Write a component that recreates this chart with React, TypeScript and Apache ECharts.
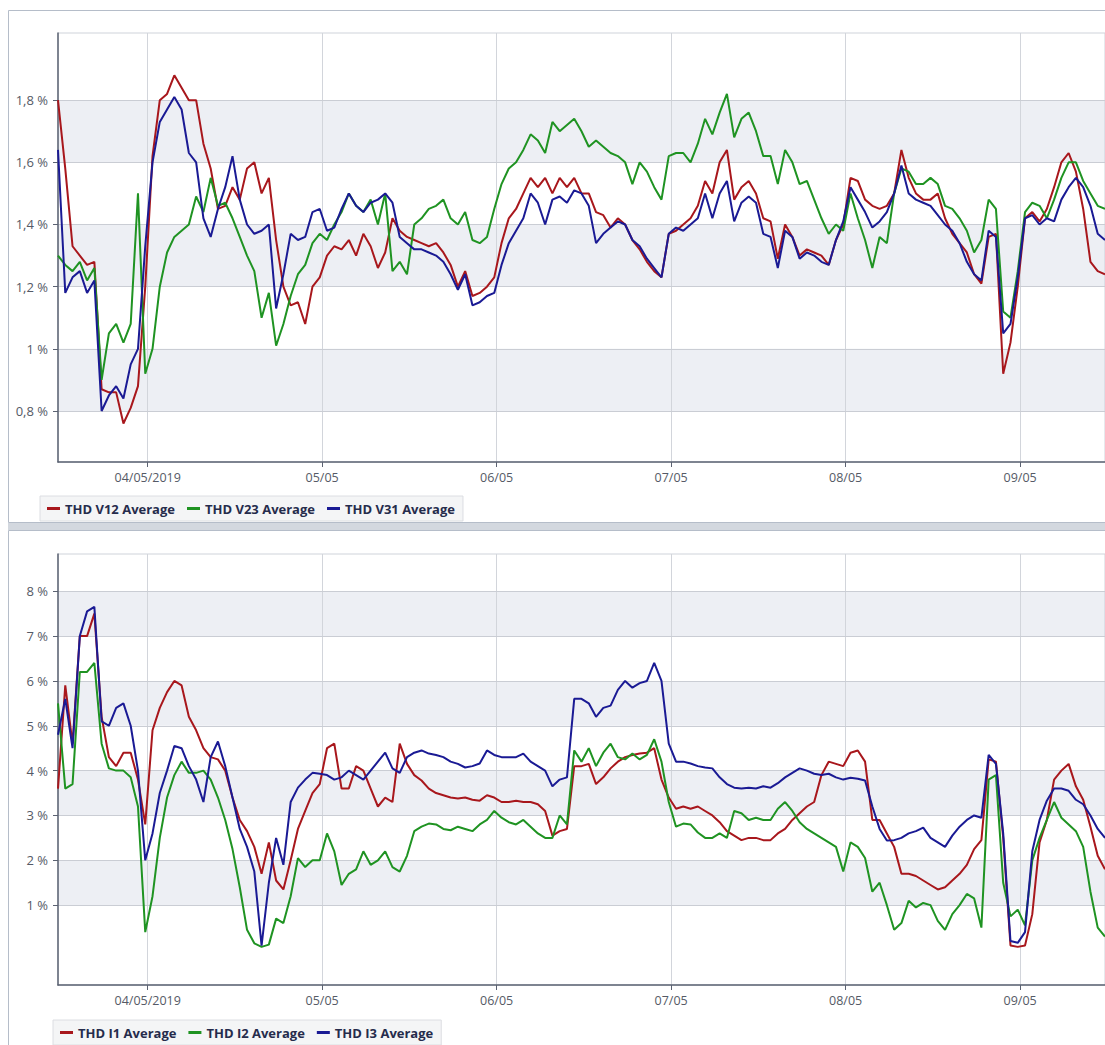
import React, { useEffect, useRef } from "react";
import * as echarts from "echarts";

// Hourly averages. Hours are counted from 04/05/2019 00:00; the log starts on 03/05 at 11:40.
const FIRST_HOUR = -37 / 3;
const STEP_HOURS = 1;
const LAST_HOUR = FIRST_HOUR + 144;
const DAY_HOURS = [0, 24, 48, 72, 96, 120];

// Voltage THD (%)
const thdV12 = [
  1.8, 1.58, 1.33, 1.3, 1.27, 1.28, 0.87, 0.86, 0.86, 0.76,
  0.81, 0.88, 1.2, 1.62, 1.8, 1.82, 1.88, 1.84, 1.8, 1.8,
  1.66, 1.58, 1.45, 1.46, 1.52, 1.48, 1.58, 1.6, 1.5, 1.55,
  1.35, 1.2, 1.14, 1.15, 1.08, 1.2, 1.23, 1.3, 1.33, 1.32,
  1.35, 1.3, 1.37, 1.33, 1.26, 1.31, 1.42, 1.38, 1.36, 1.35,
  1.34, 1.33, 1.34, 1.31, 1.27, 1.2, 1.25, 1.17, 1.18, 1.2,
  1.23, 1.34, 1.42, 1.45, 1.5, 1.55, 1.52, 1.55, 1.5, 1.55,
  1.52, 1.55, 1.5, 1.5, 1.44, 1.43, 1.39, 1.42, 1.4, 1.35,
  1.32, 1.28, 1.25, 1.23, 1.37, 1.38, 1.4, 1.42, 1.46, 1.54,
  1.5, 1.6, 1.64, 1.48, 1.52, 1.54, 1.5, 1.42, 1.41, 1.29,
  1.4, 1.36, 1.3, 1.32, 1.31, 1.3, 1.27, 1.35, 1.4, 1.55,
  1.54, 1.48, 1.46, 1.45, 1.46, 1.5, 1.64, 1.55, 1.5, 1.48,
  1.48, 1.5, 1.42, 1.37, 1.34, 1.31, 1.24, 1.21, 1.36, 1.37,
  0.92, 1.02, 1.2, 1.42, 1.44, 1.41, 1.45, 1.52, 1.6, 1.63,
  1.57, 1.45, 1.28, 1.25, 1.24,
];
const thdV23 = [
  1.3, 1.27, 1.25, 1.28, 1.22, 1.26, 0.9, 1.05, 1.08, 1.02,
  1.08, 1.5, 0.92, 1.0, 1.2, 1.31, 1.36, 1.38, 1.4, 1.49,
  1.44, 1.55, 1.46, 1.47, 1.42, 1.36, 1.3, 1.25, 1.1, 1.18,
  1.01, 1.08, 1.17, 1.24, 1.27, 1.34, 1.37, 1.35, 1.4, 1.44,
  1.5, 1.46, 1.44, 1.48, 1.4, 1.5, 1.25, 1.28, 1.24, 1.4,
  1.42, 1.45, 1.46, 1.48, 1.42, 1.4, 1.44, 1.35, 1.34, 1.36,
  1.45, 1.53, 1.58, 1.6, 1.64, 1.69, 1.67, 1.63, 1.73, 1.7,
  1.72, 1.74, 1.7, 1.65, 1.67, 1.65, 1.63, 1.62, 1.6, 1.53,
  1.6, 1.57, 1.52, 1.48, 1.62, 1.63, 1.63, 1.6, 1.66, 1.74,
  1.69, 1.76, 1.82, 1.68, 1.74, 1.76, 1.7, 1.62, 1.62, 1.53,
  1.64, 1.6, 1.53, 1.54, 1.48, 1.42, 1.37, 1.4, 1.38, 1.5,
  1.42, 1.35, 1.26, 1.36, 1.34, 1.5, 1.58, 1.57, 1.53, 1.53,
  1.55, 1.53, 1.46, 1.45, 1.42, 1.38, 1.31, 1.35, 1.48, 1.45,
  1.12, 1.1, 1.25, 1.44, 1.47, 1.46, 1.42, 1.48, 1.55, 1.6,
  1.6, 1.54, 1.5, 1.46, 1.45,
];
const thdV31 = [
  1.64, 1.18, 1.23, 1.25, 1.18, 1.22, 0.8, 0.85, 0.88, 0.84,
  0.95, 1.0, 1.33, 1.6, 1.73, 1.77, 1.81, 1.77, 1.63, 1.6,
  1.42, 1.36, 1.45, 1.52, 1.62, 1.48, 1.4, 1.37, 1.38, 1.4,
  1.13, 1.24, 1.37, 1.35, 1.36, 1.44, 1.45, 1.38, 1.39, 1.45,
  1.5, 1.46, 1.44, 1.47, 1.48, 1.5, 1.47, 1.36, 1.34, 1.32,
  1.32, 1.31, 1.3, 1.28, 1.24, 1.19, 1.24, 1.14, 1.15, 1.17,
  1.18, 1.27, 1.34, 1.38, 1.42, 1.5, 1.47, 1.4, 1.48, 1.49,
  1.47, 1.51, 1.5, 1.46, 1.34, 1.37, 1.39, 1.41, 1.4, 1.35,
  1.33, 1.29, 1.26, 1.23, 1.37, 1.39, 1.38, 1.4, 1.42, 1.5,
  1.42, 1.5, 1.54, 1.41, 1.47, 1.49, 1.47, 1.37, 1.36, 1.26,
  1.38, 1.36, 1.29, 1.31, 1.3, 1.28, 1.27, 1.35, 1.41, 1.52,
  1.48, 1.44, 1.39, 1.41, 1.44, 1.5, 1.59, 1.5, 1.48, 1.47,
  1.46, 1.43, 1.4, 1.38, 1.34, 1.28, 1.24, 1.22, 1.38, 1.36,
  1.05, 1.08, 1.23, 1.42, 1.43, 1.4, 1.42, 1.41, 1.48, 1.52,
  1.55, 1.52, 1.46, 1.37, 1.35,
];

// Current THD (%)
const thdI1 = [
  3.6, 5.9, 4.6, 7.0, 7.0, 7.5, 5.2, 4.3, 4.1, 4.4,
  4.4, 3.8, 2.8, 4.9, 5.4, 5.75, 6.0, 5.9, 5.2, 4.9,
  4.5, 4.3, 4.25, 4.0, 3.4, 2.9, 2.65, 2.3, 1.7, 2.4,
  1.55, 1.35, 2.0, 2.7, 3.1, 3.5, 3.7, 4.5, 4.6, 3.6,
  3.6, 4.1, 4.0, 3.6, 3.2, 3.4, 3.3, 4.6, 4.15, 3.9,
  3.78, 3.6, 3.5, 3.45, 3.4, 3.38, 3.4, 3.35, 3.33, 3.45,
  3.4, 3.3, 3.3, 3.33, 3.3, 3.3, 3.25, 3.1, 2.55, 2.65,
  2.7, 4.1, 4.1, 4.15, 3.7, 3.85, 4.05, 4.2, 4.3, 4.35,
  4.38, 4.4, 4.5, 3.8, 3.4, 3.15, 3.2, 3.15, 3.2, 3.1,
  3.0, 2.85, 2.65, 2.55, 2.45, 2.5, 2.5, 2.45, 2.45, 2.6,
  2.7, 2.9, 3.05, 3.2, 3.3, 3.9, 4.2, 4.15, 4.1, 4.4,
  4.45, 4.2, 2.9, 2.9, 2.6, 2.3, 1.7, 1.7, 1.65, 1.55,
  1.45, 1.35, 1.4, 1.55, 1.7, 1.9, 2.25, 2.45, 4.25, 4.2,
  2.5, 0.1, 0.07, 0.1, 0.8, 2.4, 2.9, 3.8, 4.0, 4.15,
  3.65, 3.35, 2.75, 2.1, 1.8,
];
const thdI2 = [
  5.5, 3.6, 3.7, 6.2, 6.2, 6.4, 4.6, 4.05, 4.0, 4.0,
  3.85, 3.2, 0.4, 1.2, 2.5, 3.4, 3.9, 4.2, 3.95, 3.95,
  4.0, 3.8, 3.4, 2.9, 2.25, 1.4, 0.45, 0.15, 0.07, 0.12,
  0.7, 0.6, 1.2, 2.05, 1.85, 2.0, 2.0, 2.6, 2.2, 1.45,
  1.7, 1.8, 2.2, 1.9, 2.0, 2.2, 1.85, 1.75, 2.1, 2.65,
  2.75, 2.82, 2.8, 2.7, 2.67, 2.75, 2.7, 2.65, 2.8, 2.9,
  3.1, 2.95, 2.85, 2.8, 2.9, 2.75, 2.6, 2.5, 2.5, 3.0,
  2.8, 4.45, 4.2, 4.5, 4.1, 4.4, 4.6, 4.3, 4.25, 4.38,
  4.25, 4.35, 4.7, 4.2, 3.3, 2.75, 2.82, 2.8, 2.62, 2.5,
  2.5, 2.6, 2.5, 3.1, 3.05, 2.9, 2.95, 2.9, 2.9, 3.15,
  3.3, 3.1, 2.85, 2.7, 2.6, 2.5, 2.4, 2.3, 1.75, 2.4,
  2.3, 2.05, 1.3, 1.5, 1.0, 0.45, 0.6, 1.1, 0.95, 1.05,
  1.0, 0.65, 0.45, 0.8, 1.0, 1.25, 1.15, 0.5, 3.8, 3.9,
  1.5, 0.75, 0.9, 0.55, 2.0, 2.5, 2.9, 3.3, 2.95, 2.8,
  2.65, 2.3, 1.3, 0.5, 0.3,
];
const thdI3 = [
  4.8, 5.6, 4.5, 7.0, 7.55, 7.65, 5.1, 5.0, 5.4, 5.5,
  5.0, 4.0, 2.0, 2.6, 3.5, 4.0, 4.55, 4.5, 4.1, 3.8,
  3.3, 4.3, 4.65, 4.1, 3.4, 2.7, 2.3, 1.75, 0.1, 1.5,
  2.5, 1.9, 3.3, 3.62, 3.8, 3.95, 3.93, 3.9, 3.8, 3.85,
  4.0, 3.9, 3.8, 4.0, 4.2, 4.4, 4.05, 3.95, 4.3, 4.4,
  4.45, 4.38, 4.35, 4.3, 4.2, 4.15, 4.07, 4.1, 4.16, 4.45,
  4.35, 4.3, 4.3, 4.3, 4.38, 4.2, 4.1, 4.0, 3.65, 3.8,
  3.85, 5.6, 5.6, 5.5, 5.2, 5.4, 5.45, 5.8, 6.0, 5.85,
  5.95, 6.0, 6.4, 6.0, 4.6, 4.2, 4.2, 4.16, 4.1, 4.07,
  4.05, 3.85, 3.7, 3.62, 3.6, 3.62, 3.6, 3.65, 3.62, 3.72,
  3.85, 3.95, 4.05, 4.0, 3.93, 3.9, 3.93, 3.85, 3.8, 3.84,
  3.82, 3.78, 3.2, 2.7, 2.44, 2.45, 2.5, 2.6, 2.65, 2.73,
  2.5, 2.4, 2.3, 2.55, 2.75, 2.9, 3.0, 2.95, 4.35, 4.15,
  2.6, 0.2, 0.16, 0.4, 2.2, 2.9, 3.33, 3.6, 3.6, 3.55,
  3.35, 3.25, 3.0, 2.7, 2.5,
];

const VOLT_NAMES = ["THD V12 Average", "THD V23 Average", "THD V31 Average"];
const CURR_NAMES = ["THD I1 Average", "THD I2 Average", "THD I3 Average"];

const VOLT_TICKS = [0.8, 1, 1.2, 1.4, 1.6, 1.8];
const VOLT_BANDS = [[0.8, 1], [1.2, 1.4], [1.6, 1.8]];
const VOLT_RANGE = [0.636, 2.016];
const CURR_TICKS = [1, 2, 3, 4, 5, 6, 7, 8];
const CURR_BANDS = [[1, 2], [3, 4], [5, 6], [7, 8]];
const CURR_RANGE = [-0.78, 8.83];

const COLORS = ["#a8171c", "#1f9322", "#1a1a94"];
const FONT = "'Open Sans', 'Noto Sans', sans-serif";
const AXIS_DARK = "#5b6272";

const pctLabel = (v: number) =>
  `${String(Math.round(v * 10) / 10).replace(".", ",")} %`;

const dayLabel = (h: number) => {
  const dd = String(4 + Math.round(h / 24)).padStart(2, "0");
  return h === 0 ? `${dd}/05/2019` : `${dd}/05`;
};

const toPairs = (vals: number[]) =>
  vals.map((v, i) => [FIRST_HOUR + i * STEP_HOURS, v]);

function xAxisFor(gridIndex: number) {
  return {
    type: "value",
    gridIndex,
    min: FIRST_HOUR,
    max: LAST_HOUR,
    minInterval: 24,
    maxInterval: 24,
    z: 2,
    axisLine: { show: true, onZero: false, lineStyle: { color: AXIS_DARK, width: 1.5 } },
    axisTick: { show: true, length: 5, customValues: DAY_HOURS, lineStyle: { color: AXIS_DARK } },
    axisLabel: {
      customValues: DAY_HOURS,
      formatter: (v: number) =>
        DAY_HOURS.includes(Math.round(v)) && Math.abs(v - Math.round(v)) < 1e-6 ? dayLabel(Math.round(v)) : "",
      color: "#555a66",
      fontSize: 12.5,
      fontFamily: FONT,
      margin: 9,
    },
    splitLine: { show: true, lineStyle: { color: "#d2d5db", width: 1 } },
  };
}

function yAxisFor(gridIndex: number, range: number[], ticks: number[], step: number) {
  return {
    type: "value",
    gridIndex,
    min: range[0],
    max: range[1],
    minInterval: step,
    maxInterval: step,
    z: 2,
    axisLine: { show: true, onZero: false, lineStyle: { color: AXIS_DARK, width: 1.5 } },
    axisTick: { show: true, length: 5, customValues: ticks, lineStyle: { color: AXIS_DARK } },
    axisLabel: {
      customValues: ticks,
      formatter: (v: number) => (ticks.some((t) => Math.abs(t - v) < 1e-6) ? pctLabel(v) : ""),
      color: "#555a66",
      fontSize: 13,
      fontFamily: FONT,
      margin: 10,
    },
    splitLine: { show: false },
    splitArea: { show: false },
  };
}

function seriesFor(
  names: string[],
  values: number[][],
  axisIndex: number,
  ticks: number[],
  bands: number[][]
) {
  return names.map((name, k) => ({
    name,
    type: "line",
    xAxisIndex: axisIndex,
    yAxisIndex: axisIndex,
    data: toPairs(values[k]),
    showSymbol: false,
    symbol: "none",
    z: 3,
    lineStyle: { color: COLORS[k], width: 2 },
    itemStyle: { color: COLORS[k] },
    emphasis: { disabled: true },
    ...(k === 0
      ? {
          markArea: {
            silent: true,
            z: 1,
            itemStyle: { color: "rgba(196,203,217,0.3)" },
            data: bands.map(([a, b]) => [{ yAxis: a }, { yAxis: b }]),
          },
          markLine: {
            silent: true,
            z: 2,
            symbol: ["none", "none"],
            label: { show: false },
            emphasis: { disabled: true },
            lineStyle: { color: "#cacdd4", width: 1, type: "solid" },
            data: ticks.map((t) => ({ yAxis: t })),
          },
        }
      : {}),
  }));
}

function legendFor(names: string[], left: number, top: number) {
  return {
    data: names,
    left,
    top,
    orient: "horizontal",
    icon: "rect",
    itemWidth: 13,
    itemHeight: 3,
    itemGap: 12,
    padding: [6, 8, 6, 7],
    backgroundColor: "#f4f5f6",
    borderColor: "#dcdee2",
    borderWidth: 1,
    selectedMode: false,
    textStyle: { fontFamily: FONT, fontWeight: "bold", fontSize: 13, color: "#262c4c" },
  };
}

const PLOT_LEFT = 58;
const PLOT_WIDTH = 1054.1;

export default function App() {
  const ref = useRef<HTMLDivElement>(null);

  useEffect(() => {
    if (!ref.current) return;
    const chart = echarts.init(ref.current, null, { renderer: "svg" });
    chart.setOption({
      animation: false,
      backgroundColor: "#ffffff",
      textStyle: { fontFamily: FONT },
      graphic: [
        {
          type: "rect",
          silent: true,
          shape: { x: 8.5, y: 10.5, width: 1120, height: 512 },
          style: { fill: "none", stroke: "#b5bdc9", lineWidth: 1 },
        },
        {
          type: "rect",
          silent: true,
          shape: { x: 8, y: 523, width: 1120, height: 7 },
          style: { fill: "#d3d8df" },
        },
        {
          type: "rect",
          silent: true,
          shape: { x: 8.5, y: 530.5, width: 1120, height: 530 },
          style: { fill: "none", stroke: "#b5bdc9", lineWidth: 1 },
        },
      ],
      grid: [
        { left: PLOT_LEFT, top: 33, width: PLOT_WIDTH, height: 429, show: true, borderColor: "#cfd3da", borderWidth: 1 },
        { left: PLOT_LEFT, top: 554, width: PLOT_WIDTH, height: 431, show: true, borderColor: "#cfd3da", borderWidth: 1 },
      ],
      xAxis: [xAxisFor(0), xAxisFor(1)],
      yAxis: [
        yAxisFor(0, VOLT_RANGE, VOLT_TICKS, 0.2),
        yAxisFor(1, CURR_RANGE, CURR_TICKS, 1),
      ],
      legend: [legendFor(VOLT_NAMES, 40, 496), legendFor(CURR_NAMES, 53, 1020)],
      series: [
        ...seriesFor(VOLT_NAMES, [thdV12, thdV23, thdV31], 0, VOLT_TICKS, VOLT_BANDS),
        ...seriesFor(CURR_NAMES, [thdI1, thdI2, thdI3], 1, CURR_TICKS, CURR_BANDS),
      ],
    });
    return () => chart.dispose();
  }, []);

  return (
    <div
      ref={ref}
      style={{ position: "fixed", left: 0, top: 0, width: 1105, height: 1045, background: "#fff" }}
    />
  );
}
